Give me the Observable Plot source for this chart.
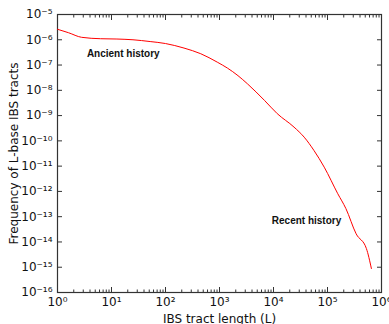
<!DOCTYPE html>
<html>
<head>
<meta charset="utf-8">
<script src="https://cdn.jsdelivr.net/npm/d3@7"></script>
<script src="https://cdn.jsdelivr.net/npm/@observablehq/plot@0.6"></script>
<style>
  html, body { margin: 0; padding: 0; background: #fff; }
</style>
</head>
<body>
<div id="chart"></div>
<script>
// Curve: IBS tract length L vs frequency
const tractLength = [1, 1.6, 2.8, 6.3, 12.6, 25, 52, 100, 220, 450, 910, 1400, 2200, 3300, 6800, 11700, 24000, 37000, 56000, 87000, 155000, 219000, 339000, 525000, 650000];
const frequency = [2.6e-6, 1.9e-6, 1.25e-6, 1.1e-6, 1.07e-6, 1.0e-6, 8.5e-7, 7.1e-7, 4.7e-7, 2.8e-7, 1.3e-7, 7.6e-8, 3.8e-8, 1.8e-8, 4.0e-9, 1.2e-9, 3.5e-10, 1.4e-10, 4.2e-11, 9.1e-12, 8.1e-13, 2.1e-13, 2.1e-14, 5.5e-15, 8.9e-16];

const xMajorTicks = [1, 10, 100, 1000, 10000, 100000, 1000000];
const xMinorTicks = [2,3,4,5,6,7,8,9,20,30,40,50,60,70,80,90,200,300,400,500,600,700,800,900,2000,3000,4000,5000,6000,7000,8000,9000,20000,30000,40000,50000,60000,70000,80000,90000,200000,300000,400000,500000,600000,700000,800000,900000];
const yMajorTicks = [1e-16,1e-15,1e-14,1e-13,1e-12,1e-11,1e-10,1e-9,1e-8,1e-7,1e-6,1e-5];

const annotations = [
  {label: "Ancient history", L: 3.5, f: 2.9e-7},
  {label: "Recent history", L: 9300, f: 6.8e-14}
];

const sup = {"-":"⁻","0":"⁰","1":"¹","2":"²","3":"³","4":"⁴","5":"⁵","6":"⁶","7":"⁷","8":"⁸","9":"⁹"};
const fmt = v => "10" + String(Math.round(Math.log10(v))).split("").map(c => sup[c]).join("");

const data = tractLength.map((L, i) => ({L, f: frequency[i]}));
const ink = "#333";

const chart = Plot.plot({
  width: 389,
  height: 324,
  marginLeft: 57,
  marginRight: 8,
  marginTop: 14,
  marginBottom: 32,
  style: {fontFamily: "DejaVu Sans", fontSize: "12px", background: "#fff", color: "#111"},
  x: {type: "log", domain: [1, 1e6]},
  y: {type: "log", domain: [1e-16, 1e-5]},
  marks: [
    Plot.axisX(xMajorTicks, {anchor: "bottom", tickSize: -5, tickFormat: () => "", label: null, stroke: ink}),
    Plot.axisX(xMinorTicks, {anchor: "bottom", tickSize: -2.5, tickFormat: () => "", label: null, stroke: ink}),
    Plot.axisX(xMajorTicks, {anchor: "top", tickSize: -5, tickFormat: () => "", label: null, stroke: ink}),
    Plot.axisX(xMinorTicks, {anchor: "top", tickSize: -2.5, tickFormat: () => "", label: null, stroke: ink}),
    Plot.axisX(xMajorTicks, {anchor: "bottom", tickSize: 0, tickPadding: 5, tickFormat: fmt, fontSize: 12,
      label: "IBS tract length (L)", labelAnchor: "center", labelArrow: "none", labelOffset: 30}),
    Plot.axisY(yMajorTicks, {anchor: "left", tickSize: -5, tickFormat: () => "", label: null, stroke: ink}),
    Plot.axisY(yMajorTicks, {anchor: "right", tickSize: -5, tickFormat: () => "", label: null, stroke: ink}),
    Plot.axisY(yMajorTicks, {anchor: "left", tickSize: 0, tickPadding: 5, tickFormat: fmt, fontSize: 12,
      label: "Frequency of L-base IBS tracts", labelAnchor: "center", labelArrow: "none", labelOffset: 48}),
    Plot.frame({stroke: ink, strokeWidth: 1.2}),
    Plot.line(data, {x: "L", y: "f", stroke: "red", strokeWidth: 1, curve: "monotone-x"}),
    Plot.text(annotations, {x: "L", y: "f", text: "label", textAnchor: "start", fontWeight: "bold",
      fontSize: 10, fontFamily: "Liberation Sans", fill: "#111"})
  ]
});
document.getElementById("chart").append(chart);
</script>
</body>
</html>
